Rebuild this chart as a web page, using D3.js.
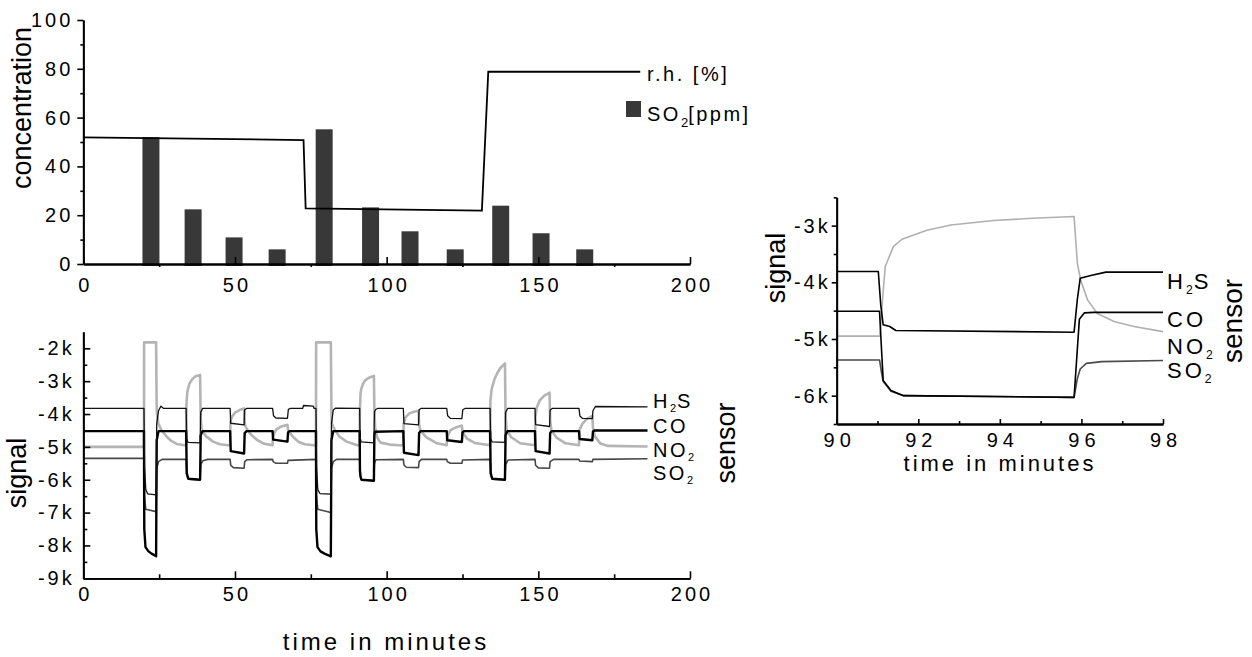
<!DOCTYPE html>
<meta charset="utf-8">
<script src="https://d3js.org/d3.v7.min.js"></script>
<style>
  body { margin: 0; background: #fff; }
</style>
<div id="chart"></div>
<script>

// ---------- data ----------

// top chart: SO2 dosing (minutes, ppm) and relative humidity steps
var barTimes  = [22.3, 36.2, 49.7, 63.9, 79.4, 94.7, 107.7, 122.6, 137.6, 150.9, 165.3];
var so2Ppm    = [52, 22.4, 10.9, 6.0, 55.2, 23.2, 13.4, 6.0, 23.9, 12.6, 6.0];
var rhTimes   = [0, 72.6, 73.3, 131.4, 133.5, 183.6];
var rhValues  = [51.9, 50.8, 22.8, 21.9, 78.8, 78.8];

// bottom chart: sensor signals, [minute, signal]
var h2sSignal = [[0,-3830],[20.0,-3830],[20.2,-5600],[20.6,-6300],[21.2,-6430],[24.0,-6460],[24.2,-4300],[24.8,-3900],[25.6,-3760],[26.5,-3830],
  [33.9,-3830],[34.1,-4750],[34.5,-4860],[38.5,-4880],[38.7,-3950],[39.3,-3830],
  [48.4,-3830],[48.6,-4280],[53.0,-4330],[53.2,-3870],[53.8,-3830],
  [62.4,-3830],[62.7,-4050],[63.5,-4120],[67.3,-4130],[67.6,-3860],[68.2,-3830],
  [72.3,-3830],[72.6,-3740],[75.8,-3760],[76.1,-3830],
  [76.7,-3830],[76.9,-5600],[77.3,-6300],[78.0,-6420],[81.6,-6440],[81.8,-4300],[82.4,-3880],[83.2,-3820],
  [91.1,-3830],[91.2,-4500],[91.35,-4760],[91.6,-4850],[95.8,-4880],[95.9,-4300],[96.0,-3930],[96.3,-3870],[97.0,-3830],
  [105.5,-3830],[105.7,-4290],[110.5,-4330],[110.7,-3870],[111.3,-3830],
  [119.8,-3830],[120.1,-4050],[121.0,-4130],[124.8,-4140],[125.1,-3870],[125.8,-3830],
  [134.1,-3830],[134.3,-4750],[134.8,-4850],[139.0,-4860],[139.2,-3950],[139.9,-3830],
  [148.9,-3830],[149.1,-4320],[153.7,-4380],[153.9,-3880],[154.6,-3830],
  [163.4,-3830],[163.7,-4060],[164.5,-4130],[167.8,-4140],[168.0,-3900],[168.8,-3770],[186,-3780]];

var coSignal = [[0,-4520],[20.0,-4520],[20.1,-7500],[20.5,-8050],[21.5,-8180],[22.5,-8250],[24.0,-8330],[24.2,-4800],[24.8,-4520],
  [33.9,-4520],[34.1,-5800],[34.6,-5970],[38.5,-6000],[38.7,-4650],[39.3,-4520],
  [48.4,-4520],[48.6,-5130],[53.0,-5200],[53.2,-4580],[53.8,-4520],
  [62.4,-4520],[62.6,-4780],[67.3,-4840],[67.5,-4560],[68.0,-4520],
  [76.7,-4520],[76.8,-7500],[77.2,-8050],[78.2,-8180],[79.5,-8250],[81.6,-8330],[81.8,-4800],[82.4,-4520],
  [91.1,-4520],[91.2,-5730],[91.4,-5910],[91.7,-6000],[95.8,-6030],[95.95,-4650],[96.1,-4540],
  [105.5,-4520],[105.7,-5180],[110.5,-5250],[110.7,-4580],[111.2,-4520],
  [119.8,-4520],[120.0,-4800],[124.8,-4850],[125.0,-4560],[125.5,-4520],
  [134.1,-4520],[134.3,-5800],[134.8,-5970],[139.0,-6000],[139.2,-4650],[139.8,-4520],
  [148.9,-4520],[149.1,-5130],[153.7,-5200],[153.9,-4580],[154.4,-4520],
  [163.4,-4520],[163.6,-4760],[167.8,-4800],[168.0,-4540],[168.5,-4500],[186,-4500]];

var no2Signal = [[0,-5000],[20.0,-5000],[20.05,-1820],[24.0,-1820],[24.2,-3900],[24.7,-4280],[25.8,-4500],[27.5,-4690],[29.0,-4820],[30.8,-4910],[33.9,-4960],
  [34.0,-3700],[34.3,-3320],[35.0,-3070],[36.0,-2930],[37.0,-2850],[38.5,-2810],[38.7,-4150],[39.0,-4490],[40.5,-4680],[42.8,-4840],[45.0,-4920],[48.4,-4960],
  [48.5,-4250],[49.0,-4080],[50.0,-3960],[51.5,-3880],[53.0,-3830],[53.2,-4250],[53.5,-4390],[55.0,-4600],[57.3,-4790],[59.5,-4900],[62.4,-4950],
  [62.5,-4700],[63.5,-4480],[65.0,-4390],[67.3,-4330],[67.5,-4500],[69.0,-4680],[71.0,-4850],[73.0,-4920],[76.7,-4960],
  [76.75,-1820],[81.6,-1820],[81.8,-3900],[81.9,-4280],[83.0,-4500],[84.5,-4690],[86.8,-4840],[90.1,-4940],[91.1,-4960],
  [91.15,-3960],[91.4,-3370],[91.6,-3240],[92.2,-3080],[92.8,-2990],[93.85,-2910],[94.8,-2870],[95.8,-2840],[95.95,-3900],[96.2,-4400],[96.8,-4690],[97.3,-4780],[98.0,-4870],[101,-4930],[105.5,-4960],
  [105.6,-4300],[106.2,-4100],[107.5,-3980],[109.0,-3930],[110.5,-3900],[110.7,-4300],[111.1,-4500],[113.0,-4700],[116.6,-4890],[119.8,-4950],
  [119.9,-4700],[121.0,-4500],[123.0,-4400],[124.8,-4350],[125.0,-4550],[126.5,-4750],[129.0,-4880],[134.1,-4950],
  [134.2,-3600],[134.6,-3250],[135.5,-2950],[136.5,-2750],[137.5,-2600],[139.0,-2460],[139.2,-4100],[139.6,-4490],[141.0,-4700],[144.0,-4890],[148.9,-4950],
  [149.0,-4100],[149.5,-3800],[150.5,-3580],[152.0,-3440],[153.7,-3350],[153.9,-4200],[154.3,-4490],[156.0,-4720],[159.0,-4890],[163.4,-4950],
  [163.5,-4500],[164.5,-4300],[166.0,-4150],[167.8,-4060],[168.0,-4400],[168.6,-4680],[170.5,-4900],[173.0,-4970],[186,-4990]];

var so2Signal = [[0,-5350],[20.0,-5350],[20.15,-6500],[20.6,-6900],[24.0,-6970],[24.2,-5650],[24.8,-5450],[26.0,-5380],
  [33.9,-5380],[34.1,-5850],[34.7,-5980],[38.5,-6000],[38.7,-5550],[39.4,-5420],[41.0,-5380],
  [48.4,-5380],[48.6,-5560],[49.5,-5630],[53.0,-5650],[53.2,-5450],[54.0,-5390],
  [62.4,-5380],[62.6,-5450],[63.5,-5500],[67.3,-5500],[67.5,-5410],
  [76.7,-5380],[76.85,-6500],[77.3,-6900],[81.6,-7000],[81.8,-5650],[82.4,-5450],[83.5,-5380],
  [91.1,-5380],[91.2,-5730],[91.4,-5910],[91.7,-6000],[95.8,-6030],[95.95,-5530],[96.2,-5430],[96.6,-5390],
  [105.5,-5380],[105.7,-5550],[106.5,-5620],[110.5,-5630],[110.7,-5450],[111.5,-5380],
  [119.8,-5380],[120.0,-5450],[121.0,-5500],[124.8,-5500],[125.0,-5400],
  [134.1,-5380],[134.3,-5850],[134.8,-5980],[139.0,-6000],[139.2,-5550],[140.0,-5400],
  [148.9,-5380],[149.1,-5560],[150.0,-5640],[153.7,-5650],[153.9,-5450],[155.0,-5380],
  [163.4,-5380],[163.6,-5430],[167.8,-5450],[168.0,-5380],[186,-5360]];

// right chart: zoom on the pulse at 91-96 minutes
var h2sZoom = [[90,-3810],[91.02,-3810],[91.08,-4400],[91.14,-4750],[91.3,-4780],[91.45,-4850],[95.82,-4880],[95.9,-4300],[95.97,-3930],[96.23,-3880],[96.6,-3820],[98,-3820]];
var coZoom  = [[90,-4510],[91.05,-4510],[91.1,-5200],[91.14,-5730],[91.33,-5910],[91.64,-6000],[95.82,-6030],[95.95,-4650],[96.07,-4540],[96.3,-4530],[98,-4530]];
var no2Zoom = [[90,-4950],[91.06,-4950],[91.13,-4250],[91.19,-3720],[91.39,-3370],[91.6,-3240],[92.21,-3080],[92.8,-2990],[93.85,-2910],[94.8,-2870],[95.82,-2840],
  [95.9,-3660],[95.98,-3960],[96.15,-4310],[96.39,-4550],[96.8,-4690],[97.29,-4780],[98,-4870]];
var so2Zoom = [[90,-5370],[91.05,-5370],[91.1,-5600],[91.14,-5750],[91.33,-5920],[91.64,-6000],[95.82,-6030],[95.9,-5700],[95.97,-5530],[96.12,-5430],[96.5,-5400],[98,-5380]];

var FONT = "'Liberation Sans', Arial, sans-serif";

var svg = d3.select("#chart").append("svg")
  .attr("width", 1252)
  .attr("height", 657)
  .style("background", "#fff");

// scales
var xTop = d3.scaleLinear().domain([0, 200]).range([83.3, 690]);
var yTop = d3.scaleLinear().domain([0, 100]).range([264, 20]);
var xBot = d3.scaleLinear().domain([0, 200]).range([83.3, 690]);
var yBot = d3.scaleLinear().domain([-9000, -1500]).range([578.3, 331.9]);
var xR = d3.scaleLinear().domain([90, 98]).range([836.7, 1163]);
var yR = d3.scaleLinear().domain([-6500, -2500]).range([424, 197.3]);

function kFormat(d) { return (d / 1000) + "k"; }

// draw an axis and style it like the original plot
function drawAxis(axis, transform, ls, dxText) {
  var g = svg.append("g")
    .attr("transform", transform)
    .call(axis)
    .attr("font-family", FONT)
    .attr("font-size", 20);
  g.select(".domain").attr("stroke", "#000").attr("stroke-width", 1.8);
  g.selectAll(".tick line").attr("stroke", "#000").attr("stroke-width", 1.6);
  g.selectAll(".tick text").attr("fill", "#000").attr("letter-spacing", ls + "px").attr("dx", dxText);
  return g;
}

// ---------- top chart ----------
var barW = 5.6;
svg.selectAll(".bar")
  .data(barTimes)
  .enter().append("rect")
    .attr("class", "bar")
    .attr("x", function(d) { return xTop(d - barW / 2); })
    .attr("width", function(d) { return xTop(barW) - xTop(0); })
    .attr("y", function(d, i) { return yTop(so2Ppm[i]); })
    .attr("height", function(d, i) { return yTop(0) - yTop(so2Ppm[i]) + 2; })
    .attr("fill", "#383838");

svg.append("path")
  .datum(rhTimes.map(function(t, i) { return [t, rhValues[i]]; }))
  .attr("fill", "none")
  .attr("stroke", "#000")
  .attr("stroke-width", 1.8)
  .attr("d", d3.line().x(function(d) { return xTop(d[0]); }).y(function(d) { return yTop(d[1]); }));

drawAxis(d3.axisBottom(xTop).tickValues([25, 75, 125, 175]).tickFormat("").tickSizeInner(3).tickSizeOuter(0), "translate(0,264)", 0, 0);
drawAxis(d3.axisBottom(xTop).tickValues([0, 50, 100, 150, 200]).tickSizeInner(-7).tickSizeOuter(0).tickPadding(14), "translate(0,264)", 3, "1.5px");
drawAxis(d3.axisLeft(yTop).tickValues([10, 30, 50, 70, 90]).tickFormat("").tickSizeInner(3).tickSizeOuter(0), "translate(83.3,0)", 0, 0);
drawAxis(d3.axisLeft(yTop).tickValues([0, 20, 40, 60, 80, 100]).tickSizeInner(6).tickSizeOuter(0).tickPadding(4), "translate(83.3,0)", 3, 0);

svg.append("text")
  .attr("transform", "translate(31,108) rotate(-90)")
  .attr("text-anchor", "middle")
  .attr("font-family", FONT).attr("font-size", 27)
  .text("concentration");

// legend of top chart
svg.append("text")
  .attr("x", 647).attr("y", 81)
  .attr("font-family", FONT).attr("font-size", 20).attr("letter-spacing", "2.5px")
  .text("r.h. [%]");
svg.append("rect")
  .attr("x", 626).attr("y", 101).attr("width", 15).attr("height", 16)
  .attr("fill", "#383838");
var so2Leg = svg.append("text")
  .attr("x", 647).attr("y", 121)
  .attr("font-family", FONT).attr("font-size", 20).attr("letter-spacing", "2.5px");
so2Leg.append("tspan").text("SO");
so2Leg.append("tspan").attr("font-size", 13).attr("dy", 6).attr("letter-spacing", "0px").text("2");
so2Leg.append("tspan").attr("dy", -6).text("[ppm]");

// ---------- bottom chart ----------
var lineBot = d3.line().x(function(d) { return xBot(d[0]); }).y(function(d) { return yBot(d[1]); });

var botSeries = [
  {data: no2Signal, color: "#b4b4b4", width: 2.6},
  {data: so2Signal, color: "#474747", width: 1.6},
  {data: coSignal,  color: "#000",    width: 2.4},
  {data: h2sSignal, color: "#111",    width: 1.3}
];
botSeries.forEach(function(s) {
  svg.append("path")
    .datum(s.data)
    .attr("fill", "none")
    .attr("stroke", s.color)
    .attr("stroke-width", s.width)
    .attr("stroke-linejoin", "round")
    .attr("d", lineBot);
});

drawAxis(d3.axisBottom(xBot).tickValues([25, 75, 125, 175]).tickFormat("").tickSizeInner(-4).tickSizeOuter(0), "translate(0,578.3)", 0, 0);
drawAxis(d3.axisBottom(xBot).tickValues([0, 50, 100, 150, 200]).tickSizeInner(-7).tickSizeOuter(0).tickPadding(8.7), "translate(0,578.3)", 3, "1.5px");
drawAxis(d3.axisLeft(yBot).tickValues([-8500, -7500, -6500, -5500, -4500, -3500, -2500]).tickFormat("").tickSizeInner(-4).tickSizeOuter(0), "translate(83.3,0)", 0, 0);
drawAxis(d3.axisLeft(yBot).tickValues([-9000, -8000, -7000, -6000, -5000, -4000, -3000, -2000]).tickFormat(kFormat).tickSizeInner(-7).tickSizeOuter(0).tickPadding(8.6), "translate(83.3,0)", 3, 0);

svg.append("text")
  .attr("transform", "translate(26,473) rotate(-90)")
  .attr("text-anchor", "middle")
  .attr("font-family", FONT).attr("font-size", 27)
  .text("signal");
svg.append("text")
  .attr("x", 386).attr("y", 650)
  .attr("text-anchor", "middle")
  .attr("font-family", FONT).attr("font-size", 24).attr("letter-spacing", "3px")
  .text("time in minutes");
svg.append("text")
  .attr("transform", "translate(735,443) rotate(-90)")
  .attr("text-anchor", "middle")
  .attr("font-family", FONT).attr("font-size", 27)
  .text("sensor");

// sensor labels next to the line ends
function sensorLabel(x, y, size, ls, main, sub, tail) {
  var t = svg.append("text")
    .attr("x", x).attr("y", y)
    .attr("font-family", FONT).attr("font-size", size).attr("letter-spacing", ls + "px");
  t.append("tspan").text(main);
  if (sub) {
    t.append("tspan").attr("font-size", size * 0.55).attr("dy", size * 0.22).attr("letter-spacing", "0px").text(sub);
    if (tail) t.append("tspan").attr("dy", -size * 0.22).attr("dx", 1).text(tail);
  }
}
sensorLabel(653, 408, 20, 2.5, "H", "2", "S");
sensorLabel(653, 433, 20, 2.5, "CO");
sensorLabel(653, 457, 20, 2.5, "NO", "2");
sensorLabel(653, 480, 20, 2.5, "SO", "2");

// ---------- right chart ----------
var lineR = d3.line().x(function(d) { return xR(d[0]); }).y(function(d) { return yR(d[1]); });
var zoomSeries = [
  {data: no2Zoom, color: "#b0b0b0", width: 1.6},
  {data: so2Zoom, color: "#4a4a4a", width: 1.6},
  {data: coZoom,  color: "#000",    width: 1.6},
  {data: h2sZoom, color: "#000",    width: 1.6}
];
zoomSeries.forEach(function(s) {
  svg.append("path")
    .datum(s.data)
    .attr("fill", "none")
    .attr("stroke", s.color)
    .attr("stroke-width", s.width)
    .attr("stroke-linejoin", "round")
    .attr("d", lineR);
});

drawAxis(d3.axisBottom(xR).tickValues([91, 93, 95, 97]).tickFormat("").tickSizeInner(-3).tickSizeOuter(0), "translate(0,424)", 0, 0);
drawAxis(d3.axisBottom(xR).tickValues([90, 92, 94, 96, 98]).tickSizeInner(-5).tickSizeOuter(0).tickPadding(9), "translate(0,424)", 5, "2.5px");
drawAxis(d3.axisLeft(yR).tickValues([-6500, -5500, -4500, -3500, -2500]).tickFormat("").tickSizeInner(3).tickSizeOuter(0), "translate(836.7,0)", 0, 0);
drawAxis(d3.axisLeft(yR).tickValues([-6000, -5000, -4000, -3000]).tickFormat(kFormat).tickSizeInner(5).tickSizeOuter(0).tickPadding(1), "translate(836.7,0)", 3, 0);

svg.append("text")
  .attr("transform", "translate(785,268) rotate(-90)")
  .attr("text-anchor", "middle")
  .attr("font-family", FONT).attr("font-size", 27)
  .text("signal");
svg.append("text")
  .attr("x", 1000).attr("y", 471)
  .attr("text-anchor", "middle")
  .attr("font-family", FONT).attr("font-size", 22).attr("letter-spacing", "3px")
  .text("time in minutes");
svg.append("text")
  .attr("transform", "translate(1242,321) rotate(-90)")
  .attr("text-anchor", "middle")
  .attr("font-family", FONT).attr("font-size", 28)
  .text("sensor");

sensorLabel(1167, 289, 22, 3, "H", "2", "S");
sensorLabel(1167, 327, 22, 3, "CO");
sensorLabel(1167, 354, 22, 3, "NO", "2");
sensorLabel(1167, 378, 22, 3, "SO", "2");

</script>
